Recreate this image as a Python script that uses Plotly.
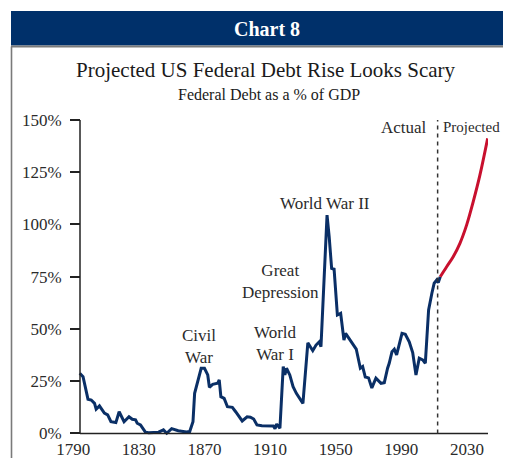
import plotly.graph_objects as go

# ---- data ----
actual_years = [1794, 1796, 1799, 1801, 1803, 1804, 1806, 1807, 1809, 1811, 1813, 1816,
                1818, 1821, 1824, 1826, 1828, 1829, 1831, 1834, 1836, 1842, 1845, 1847,
                1850, 1854, 1859, 1861, 1863, 1864, 1866, 1868, 1870, 1872, 1873, 1875,
                1878, 1879, 1880, 1882, 1884, 1887, 1889, 1893, 1896, 1898, 1900, 1902,
                1905, 1912, 1913, 1914, 1916, 1918, 1919, 1920, 1922, 1924, 1926, 1928,
                1930, 1933, 1936, 1938, 1940, 1941, 1944.7, 1946, 1947.5, 1949, 1951,
                1953, 1955, 1956, 1959, 1962.5, 1965, 1966.4, 1968, 1970, 1972, 1974.5,
                1977.6, 1979.6, 1981.6, 1982.6, 1984.3, 1985.7, 1987.1, 1990.4, 1992.4,
                1994.8, 1996.9, 1998.9, 2000.9, 2003, 2004.6, 2006.6, 2008.6, 2010,
                2011.5, 2012.5, 2013.7]
actual_debt = [28.8, 27.2, 16.4, 16.0, 14.4, 11.6, 13.2, 12.0, 9.7, 8.9, 5.6, 5.2,
               10.4, 5.6, 8.0, 6.8, 6.5, 4.9, 4.1, 0.6, 0.3, 0.6, 1.7, 0.1,
               2.3, 1.3, 0.7, 0.9, 5.6, 19.2, 24.8, 31.2, 31.2, 28.0, 22.1, 23.5,
               24.0, 25.6, 17.6, 16.8, 12.8, 12.5, 10.4, 6.0, 8.0, 7.8, 6.9, 4.1,
               3.7, 3.6, 2.3, 4.5, 2.5, 32.0, 28.0, 31.2, 28.0, 22.4, 19.2, 16.8,
               14.4, 43.4, 39.6, 42.3, 43.9, 41.5, 104.5, 94.2, 79.0, 78.6, 56.7,
               57.5, 44.7, 47.9, 44.7, 40.4, 31.2, 32.0, 27.0, 26.6, 21.8, 26.5,
               24.0, 24.3, 31.2, 33.6, 39.1, 40.3, 37.6, 47.9, 47.5,
               43.9, 38.7, 28.0, 36.0, 35.2, 33.6, 59.1, 67.1, 71.9,
               73.4, 72.2, 75.0]

projected_years = [2013.7, 2017.6, 2021.6, 2025.7, 2029.8, 2033.8, 2037.9, 2042.6]
projected_debt = [75.0, 79.8, 84.6, 91.0, 99.8, 110.9, 123.7, 141.2]

split_year = 2012.1
y_tick_vals = [0, 25, 50, 75, 100, 125, 150]
y_tick_text = ["0%", "25%", "50%", "75%", "100%", "125%", "150%"]
x_tick_vals = [1790, 1830, 1870, 1910, 1950, 1990, 2030]
x_tick_text = ["1790", "1830", "1870", "1910", "1950", "1990", "2030"]

OFF = 8  # page body margin offset in the browser
W, H = 511 - OFF, 458 - OFF
FONT = "Liberation Serif"
NAVY = "#00306a"
LINE_BLUE = "#0a2f66"
RED = "#c8102e"
TXT = "#2b2b2b"


def px(x):
    return (x - OFF) / W


def py(y):
    return 1 - (y - OFF) / H


fig = go.Figure()
fig.add_trace(go.Scatter(x=actual_years, y=actual_debt, mode="lines",
                         line=dict(color=LINE_BLUE, width=3), hoverinfo="skip"))
fig.add_trace(go.Scatter(x=projected_years, y=projected_debt, mode="lines",
                         line=dict(color=RED, width=3, shape="spline"), hoverinfo="skip"))

shapes = [
    dict(type="rect", xref="paper", yref="paper", x0=px(11), x1=1.0, y0=py(45.5), y1=py(11),
         fillcolor=NAVY, line=dict(width=0), layer="below"),
    dict(type="line", xref="paper", yref="paper", x0=px(11), x1=1.0, y0=py(46.5), y1=py(46.5),
         line=dict(color="#7a7a7a", width=2)),
    dict(type="line", xref="paper", yref="paper", x0=px(11.5), x1=px(11.5), y0=py(46.5), y1=0,
         line=dict(color="#7a7a7a", width=1.6)),
    dict(type="line", xref="paper", yref="y", x0=px(80), x1=px(80), y0=0, y1=150,
         line=dict(color="#222222", width=1.5)),
    dict(type="line", xref="paper", yref="y", x0=px(80), x1=px(488), y0=0, y1=0,
         line=dict(color="#222222", width=1.5)),
    dict(type="line", xref="x", yref="y", x0=split_year, x1=split_year, y0=0, y1=150,
         line=dict(color="#333333", width=1.5, dash="4px,4px")),
]


def ann(text, x, y, size=17, color=TXT, bold=False, xanchor="center"):
    if bold:
        text = "<b>" + text + "</b>"
    return dict(text=text, xref="paper", yref="paper", x=px(x), y=py(y),
                xanchor=xanchor, yanchor="middle", showarrow=False,
                font=dict(family=FONT, size=size, color=color))


annotations = [
    ann("Chart 8", 267, 29, size=20, color="white", bold=True),
    ann("Projected US Federal Debt Rise Looks Scary", 265.5, 70, size=21, color="#1a1a1a"),
    ann("Federal Debt as a % of GDP", 268.5, 94, size=16, color="#1a1a1a"),
    ann("Actual", 404, 127),
    ann("Projected", 502, 127, size=15, xanchor="right"),
    ann("World War II", 325, 203),
    ann("Great<br>Depression", 280, 281.5),
    ann("World<br>War I", 275, 343),
    ann("Civil<br>War", 199, 346),
]

fig.update_layout(
    width=W, height=H, autosize=False,
    margin=dict(l=0, r=0, t=0, b=0, pad=0, autoexpand=False),
    paper_bgcolor="white", plot_bgcolor="white",
    showlegend=False,
    font=dict(family=FONT, color=TXT, size=17),
    shapes=shapes,
    annotations=annotations,
    xaxis=dict(domain=[px(73.2), px(488)], range=[1790, 2042.8], automargin=False,
               tickvals=x_tick_vals, ticktext=x_tick_text, showline=False,
               showgrid=False, zeroline=False, ticks="",
               tickfont=dict(family=FONT, size=17, color=TXT)),
    yaxis=dict(domain=[py(436.6), py(120)], range=[-1.5, 150], automargin=False,
               anchor="free", position=px(80),
               tickvals=y_tick_vals, ticktext=y_tick_text, showline=False,
               showgrid=False, zeroline=False, ticks="outside", ticklen=10,
               tickwidth=1.5, tickcolor="#222222", ticklabelstandoff=5,
               tickfont=dict(family=FONT, size=17, color=TXT)),
)

fig.write_html("out.html")
